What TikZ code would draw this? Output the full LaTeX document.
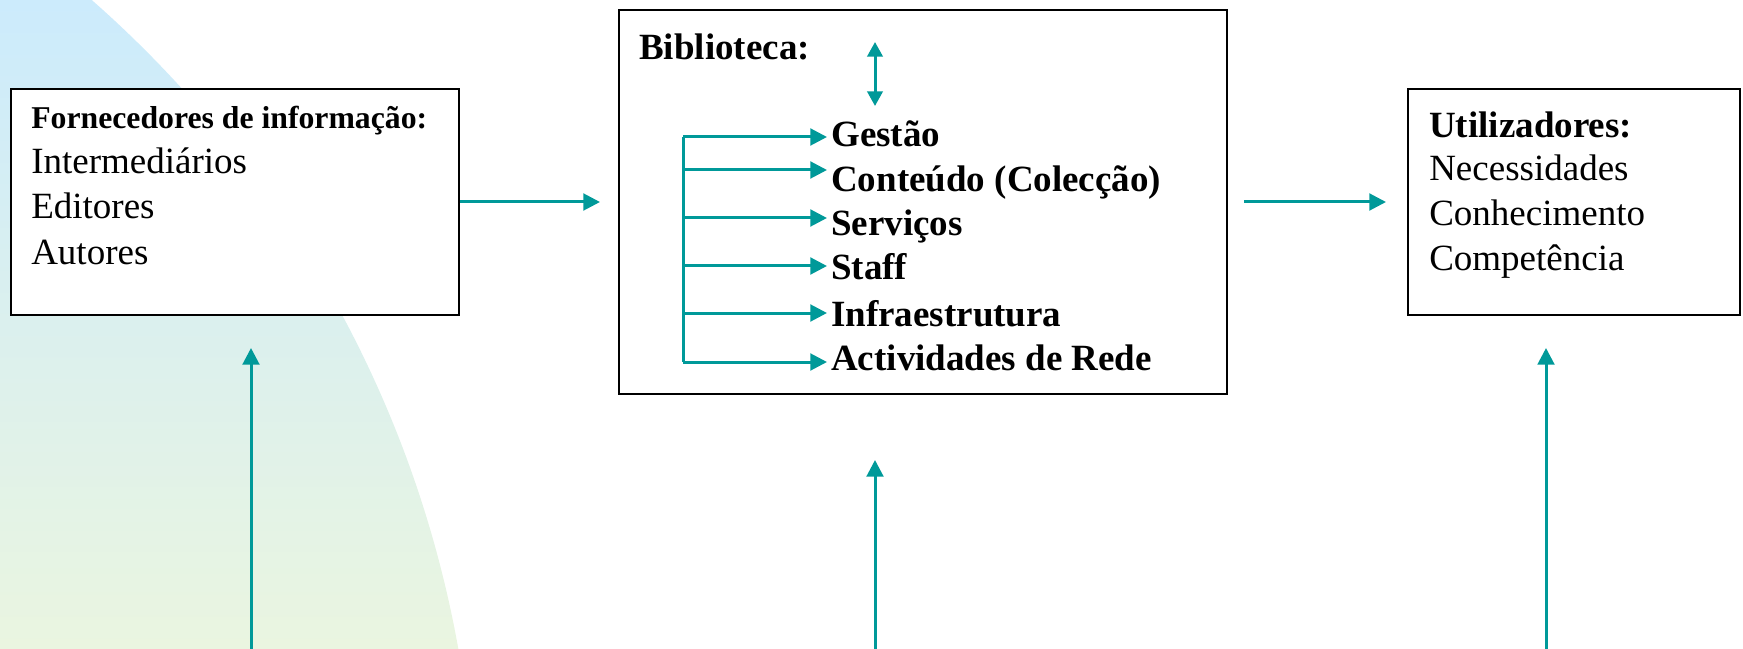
\documentclass[tikz,border=0pt]{standalone}
\usepackage{fontspec}
\setmainfont{Liberation Serif}
\usetikzlibrary{arrows.meta}
\definecolor{arrteal}{RGB}{0,153,153}
\definecolor{bgtop}{RGB}{204,235,252}
\definecolor{bgbot}{RGB}{234,245,224}
\tikzset{
  box/.style={draw=black, line width=1.5pt, fill=white, inner sep=0pt},
  txt/.style={inner sep=0pt, anchor=base west, font=\fontsize{27.75}{33}\selectfont},
  btxt/.style={txt, font=\fontsize{27.75}{33}\selectfont\bfseries},
  htxt/.style={txt, font=\fontsize{23.8}{28}\selectfont\bfseries},
  arr/.style={draw=arrteal, line width=2.25pt, -{Triangle[length=12.5pt,width=12.5pt]}},
  darr/.style={draw=arrteal, line width=2.25pt, {Triangle[length=11pt,width=11.5pt]}-{Triangle[length=11pt,width=11.5pt]}}
}
\begin{document}
\begin{tikzpicture}[x=0.75pt,y=-0.75pt]
\useasboundingbox (0,0) rectangle (1743,649);
% background quarter disc
\begin{scope}
  \clip (-654,849) circle[radius=847.5pt];
  \shade[top color=bgtop, bottom color=bgbot] (0,0) rectangle (480,649);
\end{scope}

% boxes
\node[box, minimum width=336pt, minimum height=169.5pt] (forn) at (235,202) {};
\node[box, minimum width=456pt, minimum height=288pt] (bib) at (923,202) {};
\node[box, minimum width=249pt, minimum height=169.5pt] (util) at (1574,202) {};

% left box text
\node[htxt] (fh) at (31,129) {Fornecedores de informação:};
\node[txt] (f1) at (31,174) {Intermediários};
\node[txt] (f2) at (31,219) {Editores};
\node[txt] (f3) at (31,264) {Autores};

% middle box text
\node[btxt] (bh) at (639,60) {Biblioteca:};
\node[btxt] (b1) at (831,147) {Gestão};
\node[btxt] (b2) at (831,192) {Conteúdo (Colecção)};
\node[btxt] (b3) at (831,236) {Serviços};
\node[btxt] (b4) at (831,280) {Staff};
\node[btxt] (b5) at (831,326) {Infraestrutura};
\node[btxt] (b6) at (831,370) {Actividades de Rede};

% right box text
\node[btxt] (uh) at (1429,138) {Utilizadores:};
\node[txt] (u1) at (1429,181) {Necessidades};
\node[txt] (u2) at (1429,226) {Conhecimento};
\node[txt] (u3) at (1429,271) {Competência};

% horizontal connectors
\draw[arr, shorten >=13.5pt] (forn) -- (bib);
\draw[arr, shorten <=12pt, shorten >=15.75pt] (bib) -- (util);

% vertical connectors from below
\coordinate (fl) at (251,660);
\coordinate (ml) at (875,660);
\coordinate (rl) at (1546,660);
\draw[arr, shorten >=24pt] (fl) -- (fl |- forn.south);
\draw[arr, shorten >=48.75pt] (ml) -- (ml |- bib.south);
\draw[arr, shorten >=24pt] (rl) -- (rl |- util.south);

% double arrow inside library box
\coordinate (da) at (875,42);
\coordinate (db) at (875,106);
\draw[darr] (da) -- (db);

% tree of arrows
\coordinate (t1) at (683,137);
\coordinate (t6) at (683,362);
\draw[draw=arrteal, line width=2.25pt] (t1) -- (t6);
\foreach \y/\n in {137/1,170/2,218/3,266/4,313/5,362/6}{
  \coordinate (s\n) at (683,\y);
  \coordinate (e\n) at (827,\y);
  \draw[arr] (s\n) -- (e\n);
}
\end{tikzpicture}
\end{document}
